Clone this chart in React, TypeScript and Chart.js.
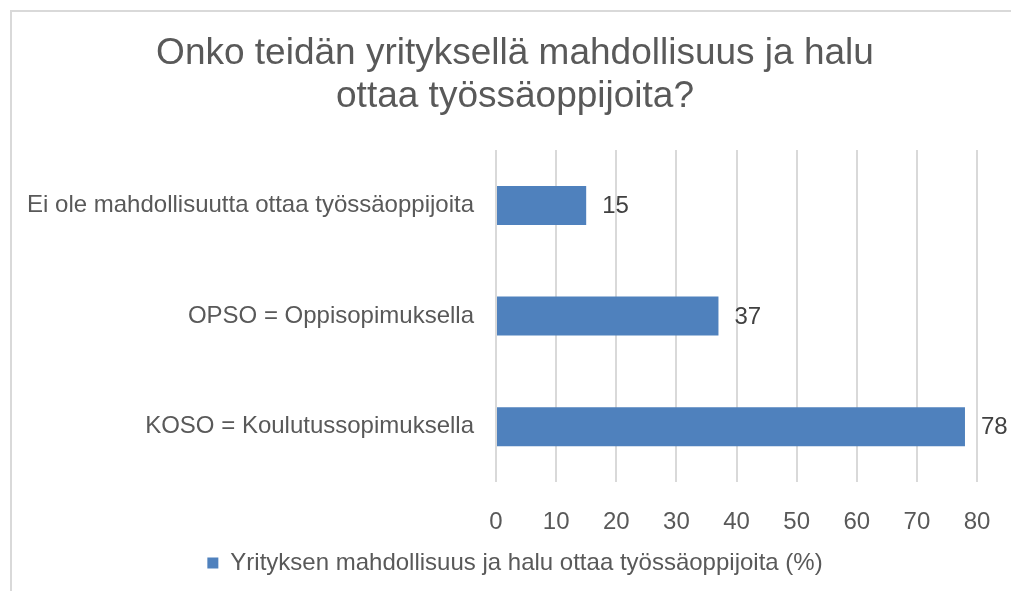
import React, { useEffect, useRef } from "react";
import { Chart, registerables } from "chart.js";

Chart.register(...registerables);

const titleLines = ["Onko teidän yrityksellä mahdollisuus ja halu", "ottaa työssäoppijoita?"];
const categories = [
  "Ei ole mahdollisuutta ottaa työssäoppijoita",
  "OPSO = Oppisopimuksella",
  "KOSO = Koulutussopimuksella",
];
const seriesLabel = "Yrityksen mahdollisuus ja halu ottaa työssäoppijoita (%)";
const seriesValues = [15, 37, 78];
const xMin = 0;
const xMax = 80;
const xStep = 10;

const FONT = "'Liberation Sans', Arial, sans-serif";

const valueLabelPlugin = {
  id: "valueLabels",
  afterDatasetsDraw(chart: any) {
    const ctx = chart.ctx;
    const meta = chart.getDatasetMeta(0);
    ctx.save();
    ctx.font = `24px ${FONT}`;
    ctx.fillStyle = "#404040";
    ctx.textAlign = "left";
    ctx.textBaseline = "middle";
    meta.data.forEach((bar: any, i: number) => {
      ctx.fillText(String(seriesValues[i]), bar.x + 16, bar.y + 1);
    });
    ctx.restore();
  },
};

export default function App() {
  const canvasRef = useRef<HTMLCanvasElement | null>(null);

  useEffect(() => {
    if (!canvasRef.current) return;
    const chart = new Chart(canvasRef.current, {
      type: "bar",
      data: {
        labels: categories,
        datasets: [
          {
            label: seriesLabel,
            data: seriesValues,
            backgroundColor: "#4F81BD",
            borderWidth: 0,
            categoryPercentage: 1,
            barPercentage: 0.352,
          },
        ],
      },
      options: {
        indexAxis: "y",
        responsive: false,
        animation: false,
        devicePixelRatio: 1,
        layout: { padding: { left: 0, right: 2, top: 0, bottom: 6 } },
        plugins: {
          title: {
            display: true,
            text: titleLines,
            color: "#595959",
            font: { family: FONT, size: 37, weight: "normal", lineHeight: 1.15 },
            padding: { top: 21, bottom: 32 },
          },
          legend: {
            display: true,
            position: "bottom",
            labels: {
              color: "#595959",
              font: { family: FONT, size: 24 },
              boxWidth: 11,
              boxHeight: 11,
              padding: 0,
            },
          },
          tooltip: { enabled: false },
        },
        scales: {
          x: {
            min: xMin,
            max: xMax,
            ticks: {
              stepSize: xStep,
              color: "#595959",
              font: { family: FONT, size: 24 },
              padding: 26,
            },
            grid: { color: "#d9d9d9", lineWidth: 2, drawTicks: false },
            border: { display: false },
            afterFit(scale: any) {
              scale.height = 69;
            },
          },
          y: {
            ticks: {
              color: "#595959",
              font: { family: FONT, size: 24 },
              padding: 22,
            },
            grid: { display: false, drawTicks: false },
            border: { display: false },
            afterFit(scale: any) {
              scale.width = 484;
            },
          },
          ySpacer: {
            type: "category",
            position: "right",
            display: true,
            ticks: { display: false },
            grid: { display: false, drawTicks: false },
            border: { display: false },
            afterFit(scale: any) {
              scale.width = 41;
            },
          },
        },
      },
      plugins: [valueLabelPlugin],
    });
    return () => chart.destroy();
  }, []);

  return (
    <div style={{ position: "absolute", left: 0, top: 0, width: 1011, height: 591, overflow: "hidden", background: "#fff" }}>
      <div
        style={{
          position: "absolute",
          left: 10,
          top: 10,
          width: 1010,
          height: 590,
          borderTop: "2px solid #d9d9d9",
          borderLeft: "2px solid #d9d9d9",
        }}
      />
      <canvas
        ref={canvasRef}
        width={1008}
        height={579}
        style={{ position: "absolute", left: 12, top: 12, width: 1008, height: 579 }}
      />
    </div>
  );
}
